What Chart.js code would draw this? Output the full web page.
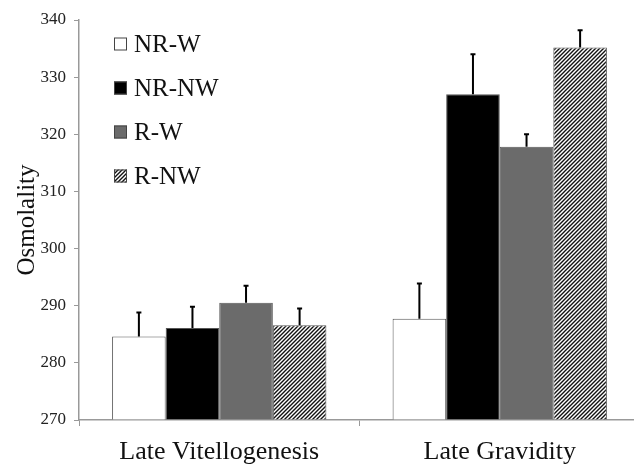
<!DOCTYPE html>
<html lang="en">
<head>
    <meta charset="UTF-8">
    <title>Osmolality</title>
    <script src="https://cdn.jsdelivr.net/npm/chart.js"></script>
    <style>
        body { margin: 0; overflow: hidden; background: #fff; }
    </style>
</head>
<body>
    <canvas id="osmoChart" width="640" height="464"></canvas>
    <script>
        const stages = ['Late Vitellogenesis', 'Late Gravidity'];
        const groups = ['NR-W', 'NR-NW', 'R-W', 'R-NW'];
        const nrW = [284.6, 287.7];
        const nrNW = [286.1, 327.0];
        const rW = [290.5, 317.8];
        const rNW = [286.6, 335.2];
        // upper error (SE)
        const errNrW = [4.2, 6.2];
        const errNrNW = [3.7, 7.0];
        const errRW = [3.0, 2.2];
        const errRNW = [2.9, 3.0];
        const yTicks = [270, 280, 290, 300, 310, 320, 330, 340];

        // diagonal hatch fill
        function makeHatch() {
            const c = document.createElement('canvas');
            c.width = 4; c.height = 4;
            const g = c.getContext('2d');
            g.fillStyle = '#fff';
            g.fillRect(0, 0, 4, 4);
            g.strokeStyle = '#111';
            g.lineWidth = 1.4;
            g.beginPath();
            g.moveTo(-1, 5); g.lineTo(5, -1);
            g.moveTo(-1, 1); g.lineTo(1, -1);
            g.moveTo(3, 5); g.lineTo(5, 3);
            g.stroke();
            return g.createPattern(c, 'repeat');
        }
        const hatch = makeHatch();

        const serif = "'Liberation Serif', 'DejaVu Serif', serif";

        // upward error bars
        const errorBars = {
            id: 'errorBars',
            afterDatasetsDraw(chart) {
                const ctx = chart.ctx;
                const y = chart.scales.y;
                ctx.save();
                ctx.strokeStyle = '#000';
                ctx.lineWidth = 2;
                chart.data.datasets.forEach((ds, i) => {
                    const meta = chart.getDatasetMeta(i);
                    meta.data.forEach((bar, j) => {
                        const top = y.getPixelForValue(ds.data[j] + ds.err[j]);
                        ctx.beginPath();
                        ctx.moveTo(bar.x, bar.y);
                        ctx.lineTo(bar.x, top);
                        ctx.moveTo(bar.x - 2.5, top);
                        ctx.lineTo(bar.x + 2.5, top);
                        ctx.stroke();
                    });
                });
                ctx.restore();
            }
        };

        // legend inside the plot, top left
        const innerLegend = {
            id: 'innerLegend',
            afterDraw(chart) {
                const ctx = chart.ctx;
                ctx.save();
                ctx.font = '25px ' + serif;
                ctx.textBaseline = 'middle';
                chart.data.datasets.forEach((ds, i) => {
                    const cy = 44 + i * 44;
                    ctx.fillStyle = ds.backgroundColor;
                    ctx.fillRect(114, cy - 6.5, 13, 13);
                    ctx.strokeStyle = '#444';
                    ctx.lineWidth = 1;
                    ctx.strokeRect(114.5, cy - 6, 12, 12);
                    ctx.fillStyle = '#111';
                    ctx.fillText(ds.label, 134, cy + 1);
                });
                ctx.restore();
            }
        };

        const ctx = document.getElementById('osmoChart').getContext('2d');
        new Chart(ctx, {
            type: 'bar',
            data: {
                labels: stages,
                datasets: [
                    { label: groups[0], data: nrW, err: errNrW, backgroundColor: '#ffffff' },
                    { label: groups[1], data: nrNW, err: errNrNW, backgroundColor: '#000000' },
                    { label: groups[2], data: rW, err: errRW, backgroundColor: '#6b6b6b' },
                    { label: groups[3], data: rNW, err: errRNW, backgroundColor: hatch }
                ]
            },
            options: {
                responsive: false,
                animation: false,
                layout: { padding: { top: 20, left: 0, right: 0, bottom: 0 } },
                datasets: {
                    bar: {
                        borderColor: '#555',
                        borderWidth: 1,
                        categoryPercentage: 0.764,
                        barPercentage: 1,
                        base: 270
                    }
                },
                plugins: {
                    legend: { display: false },
                    tooltip: { enabled: false }
                },
                scales: {
                    x: {
                        offset: true,
                        grid: {
                            offset: true,
                            drawOnChartArea: false,
                            color: '#999',
                            tickLength: 6
                        },
                        border: { color: '#999', width: 1.5 },
                        ticks: {
                            color: '#111',
                            font: { family: serif, size: 26 },
                            padding: 11
                        },
                        afterFit(scale) { scale.height = 44; }
                    },
                    y: {
                        min: 270,
                        max: 340,
                        afterBuildTicks(scale) {
                            scale.ticks = yTicks.map(v => ({ value: v }));
                        },
                        grid: {
                            drawOnChartArea: false,
                            color: '#999',
                            tickLength: 5
                        },
                        border: { color: '#999', width: 1.5 },
                        ticks: {
                            color: '#222',
                            font: { family: serif, size: 17 },
                            padding: 8
                        },
                        title: {
                            display: true,
                            text: 'Osmolality',
                            color: '#111',
                            font: { family: serif, size: 25 },
                            padding: { top: 12, bottom: 0 }
                        },
                        afterFit(scale) { scale.width = 79; }
                    }
                }
            },
            plugins: [errorBars, innerLegend]
        });
    </script>
</body>
</html>
